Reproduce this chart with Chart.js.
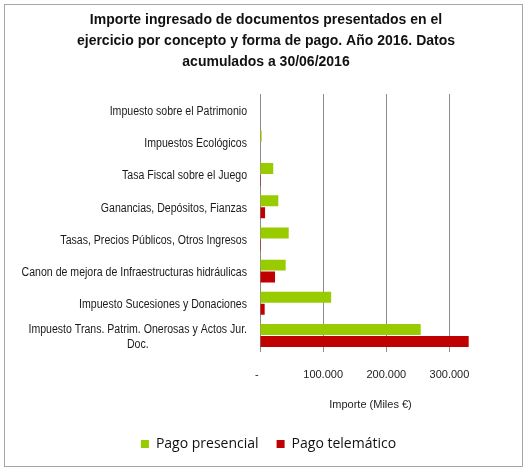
<!DOCTYPE html>
<html>
<head>
<meta charset="utf-8">
<script src="https://cdn.jsdelivr.net/npm/chart.js@4"></script>
<style>
  html, body { margin: 0; padding: 0; background: #fff; }
  #wrap { position: relative; width: 526px; height: 468px; }
  #frame { position: absolute; left: 4px; top: 4px; width: 517px; height: 461px; border: 1px solid #a6a6a6; pointer-events: none; }
</style>
</head>
<body>
<div id="wrap">
  <canvas id="grafico" width="526" height="468"></canvas>
  <div id="frame"></div>
</div>
<script>
// conceptos (de arriba a abajo)
const conceptos = [
    'Impuesto sobre el Patrimonio',
    'Impuestos Ecológicos',
    'Tasa Fiscal sobre el Juego',
    'Ganancias, Depósitos, Fianzas',
    'Tasas, Precios Públicos, Otros Ingresos',
    'Canon de mejora de Infraestructuras hidráulicas',
    'Impuesto Sucesiones y Donaciones',
    ['Impuesto Trans. Patrim. Onerosas y Actos Jur.', 'Doc.']
];

// miles de euros
const pagoPresencial = [0, 2600, 21000, 29000, 45500, 40700, 112700, 254500];
const pagoTelematico = [0, 0, 1500, 8000, 1500, 23800, 7400, 330500];

// marcas del eje de importes
const marcasEje = [0, 100000, 200000, 300000];

const tituloLineas = [
    'Importe ingresado de documentos presentados en el',
    'ejercicio por concepto y forma de pago. Año 2016. Datos',
    'acumulados a 30/06/2016'
];

const colorPresencial = '#99cc00';
const colorTelematico = '#c00000';

// formato de miles con punto, como en el original
function formatoMiles(v) {
    if (v === 0) return '-  ';
    return String(v).replace(/\B(?=(\d{3})+(?!\d))/g, '.');
}

// titulo propio: centrado en el marco, no en el area del grafico
const tituloPlugin = {
    id: 'tituloPropio',
    afterDraw(chart) {
        const ctx = chart.ctx;
        ctx.save();
        ctx.font = 'bold 14px "Liberation Sans", Arial, sans-serif';
        ctx.fillStyle = '#111';
        ctx.textAlign = 'center';
        ctx.textBaseline = 'middle';
        tituloLineas.forEach((linea, i) => ctx.fillText(linea, 266, 20.5 + i * 21));
        ctx.restore();
    }
};

// etiquetas de categoria estilo Excel (letra estrecha, lineas centradas entre si)
const etiquetasPlugin = {
    id: 'etiquetas',
    afterDraw(chart) {
        const ctx = chart.ctx;
        const yScale = chart.scales.y;
        const derecha = yScale.right - 13;
        const estrecho = 0.88;
        ctx.save();
        ctx.font = '12px "Liberation Sans", Arial, sans-serif';
        ctx.fillStyle = '#1a1a1a';
        ctx.textBaseline = 'middle';
        ctx.textAlign = 'center';
        conceptos.forEach((lbl, i) => {
            const lineas = Array.isArray(lbl) ? lbl : [lbl];
            const ancho = Math.max(...lineas.map(l => ctx.measureText(l).width)) * estrecho;
            const centroX = derecha - ancho / 2;
            const y = yScale.getPixelForTick(i) + 1.5;
            lineas.forEach((l, j) => {
                ctx.save();
                ctx.translate(centroX, y + (j - (lineas.length - 1) / 2) * 15);
                ctx.scale(estrecho, 1);
                ctx.fillText(l, 0, 0);
                ctx.restore();
            });
        });
        ctx.restore();
    }
};

const ctx = document.getElementById('grafico').getContext('2d');
new Chart(ctx, {
    type: 'bar',
    data: {
        labels: conceptos,
        datasets: [
            {
                label: 'Pago presencial',
                data: pagoPresencial,
                backgroundColor: colorPresencial,
                barPercentage: 0.92,
                categoryPercentage: 0.74
            },
            {
                label: 'Pago telemático',
                data: pagoTelematico,
                backgroundColor: colorTelematico,
                barPercentage: 0.92,
                categoryPercentage: 0.74
            }
        ]
    },
    options: {
        indexAxis: 'y',
        responsive: false,
        animation: false,
        layout: { padding: { left: 56, right: 45, top: 94, bottom: 7 } },
        scales: {
            x: {
                type: 'linear',
                min: 0,
                max: 350000,
                afterBuildTicks: scale => {
                    scale.ticks = marcasEje.map(v => ({ value: v }));
                },
                ticks: {
                    autoSkip: false,
                    padding: 17,
                    color: '#222',
                    font: { family: '"Liberation Sans", Arial, sans-serif', size: 11 },
                    callback: v => formatoMiles(v)
                },
                grid: { color: '#8c8c8c', drawTicks: false },
                border: { display: false },
                title: {
                    display: true,
                    text: 'Importe (Miles €)',
                    color: '#222',
                    padding: { top: 16, bottom: 7 },
                    font: { family: '"Liberation Sans", Arial, sans-serif', size: 11 }
                },
                afterFit: scale => { scale.height -= 16; }
            },
            y: {
                ticks: { display: false },
                grid: { display: false },
                border: { display: true, color: '#8c8c8c' },
                afterFit: scale => { scale.width = 204; }
            }
        },
        plugins: {
            title: { display: false },
            legend: {
                position: 'bottom',
                labels: {
                    boxWidth: 8,
                    boxHeight: 8,
                    padding: 18,
                    color: '#111',
                    font: { family: '"Open Sans", sans-serif', size: 14 }
                }
            },
            tooltip: { enabled: false }
        }
    },
    plugins: [tituloPlugin, etiquetasPlugin]
});
</script>
</body>
</html>
